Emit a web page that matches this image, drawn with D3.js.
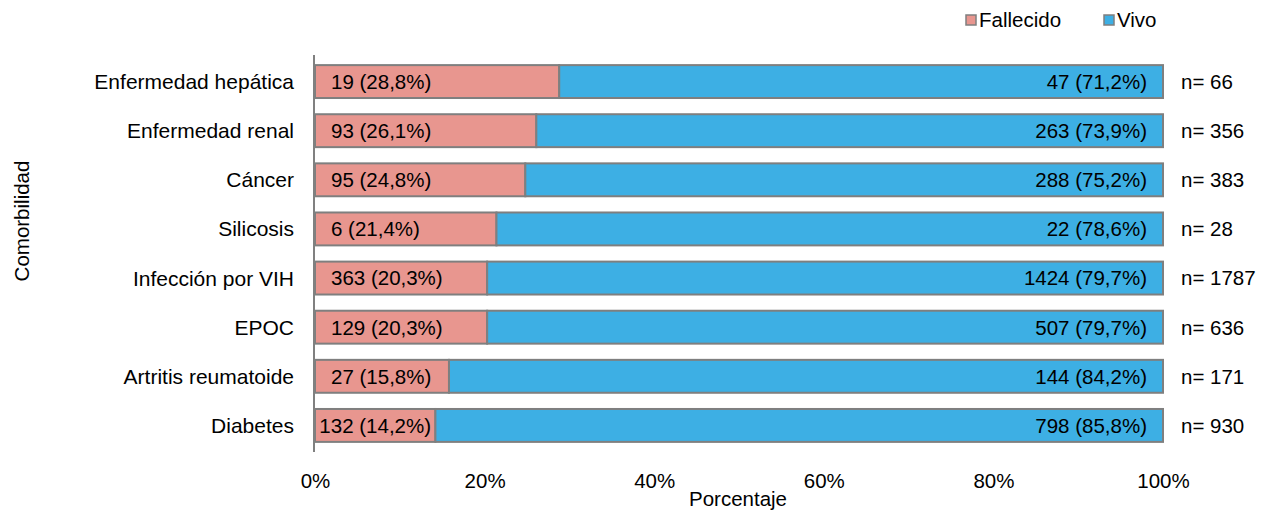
<!DOCTYPE html>
<html>
<head>
<meta charset="utf-8">
<script src="https://cdn.jsdelivr.net/npm/d3@7"></script>
<style>
  body { margin: 0; background: #fff; }
  text { font-family: "Liberation Sans", Arial, sans-serif; fill: #000; }
</style>
</head>
<body>
<svg id="chart" width="1267" height="510"></svg>
<script>
// Comorbidities, top to bottom
const categories = ["Enfermedad hepática", "Enfermedad renal", "Cáncer", "Silicosis",
  "Infección por VIH", "EPOC", "Artritis reumatoide", "Diabetes"];
const fallecidoN = [19, 93, 95, 6, 363, 129, 27, 132];
const fallecidoPct = [28.8, 26.1, 24.8, 21.4, 20.3, 20.3, 15.8, 14.2];
const vivoN = [47, 263, 288, 22, 1424, 507, 144, 798];
const vivoPct = [71.2, 73.9, 75.2, 78.6, 79.7, 79.7, 84.2, 85.8];
const totals = [66, 356, 383, 28, 1787, 636, 171, 930];
const xTicks = [0, 20, 40, 60, 80, 100];
const seriesNames = ["Fallecido", "Vivo"];
const seriesColors = ["#E8968F", "#3DAFE4"];

const svg = d3.select("#chart");
const fontSize = 20.5;
const fmt = v => String(v.toFixed(1)).replace(".", ",");

const x = d3.scaleLinear().domain([0, 100]).range([315, 1163]);
const y = d3.scaleBand().domain(categories).range([57, 450]).paddingInner(0.33).paddingOuter(0.165);

const rows = categories.map((c, i) => ({
  cat: c, f: fallecidoPct[i], v: vivoPct[i], fn: fallecidoN[i], vn: vivoN[i], n: totals[i]
}));

// Stacked bars
const g = svg.append("g");
g.selectAll("rect.f").data(rows).join("rect")
  .attr("x", x(0)).attr("y", d => y(d.cat))
  .attr("width", d => x(d.f) - x(0)).attr("height", y.bandwidth())
  .attr("fill", seriesColors[0]).attr("stroke", "#7f7f7f").attr("stroke-width", 2);
g.selectAll("rect.v").data(rows).join("rect")
  .attr("x", d => x(d.f)).attr("y", d => y(d.cat))
  .attr("width", d => x(d.f + d.v) - x(d.f)).attr("height", y.bandwidth())
  .attr("fill", seriesColors[1]).attr("stroke", "#7f7f7f").attr("stroke-width", 2);

// Y axis line
svg.append("line").attr("x1", 314).attr("x2", 314).attr("y1", 55).attr("y2", 452)
  .attr("stroke", "#808080").attr("stroke-width", 2);

// Fallecido labels: at the base, centred when the bar is too narrow
g.selectAll("text.f").data(rows).join("text")
  .attr("y", d => y(d.cat) + y.bandwidth() / 2).attr("dy", "0.36em")
  .style("font-size", fontSize + "px")
  .text(d => `${d.fn} (${fmt(d.f)}%)`)
  .each(function (d) {
    const w = this.getComputedTextLength();
    const x0 = x(0), x1 = x(d.f);
    if (w + 32 > x1 - x0) {
      d3.select(this).attr("x", (x0 + x1) / 2).attr("text-anchor", "middle");
    } else {
      d3.select(this).attr("x", x0 + 16).attr("text-anchor", "start");
    }
  });

// Vivo labels: at the end of the bar
g.selectAll("text.v").data(rows).join("text")
  .attr("x", d => x(d.f + d.v) - 16)
  .attr("y", d => y(d.cat) + y.bandwidth() / 2).attr("dy", "0.36em")
  .attr("text-anchor", "end").style("font-size", fontSize + "px")
  .text(d => `${d.vn} (${fmt(d.v)}%)`);

// Totals
g.selectAll("text.n").data(rows).join("text")
  .attr("x", 1181).attr("y", d => y(d.cat) + y.bandwidth() / 2).attr("dy", "0.36em")
  .style("font-size", fontSize + "px")
  .text(d => `n= ${d.n}`);

// Category labels
g.selectAll("text.cat").data(rows).join("text")
  .attr("x", 294).attr("y", d => y(d.cat) + y.bandwidth() / 2).attr("dy", "0.36em")
  .attr("text-anchor", "end").style("font-size", "21px")
  .text(d => d.cat);

// X axis tick labels
const xAxis = d3.axisBottom(x).tickValues(xTicks).tickFormat(d => d + "%").tickSize(0).tickPadding(0);
const ax = svg.append("g").attr("transform", "translate(0,488)").call(xAxis);
ax.select(".domain").remove();
ax.selectAll("text").style("font-size", fontSize + "px").attr("y", 0).attr("dy", 0);

// Axis titles
svg.append("text").attr("x", 738).attr("y", 506).attr("text-anchor", "middle")
  .style("font-size", fontSize + "px").text("Porcentaje");
svg.append("text").attr("transform", "translate(29,221) rotate(-90)")
  .attr("text-anchor", "middle").style("font-size", fontSize + "px").text("Comorbilidad");

// Legend
const legendX = [966, 1104];
seriesNames.forEach((s, i) => {
  svg.append("rect").attr("x", legendX[i]).attr("y", 15).attr("width", 10).attr("height", 10)
    .attr("fill", seriesColors[i]).attr("stroke", "#7f7f7f").attr("stroke-width", 1.5);
  svg.append("text").attr("x", legendX[i] + 13).attr("y", 20).attr("dy", "0.36em")
    .style("font-size", fontSize + "px").text(s);
});
</script>
</body>
</html>
